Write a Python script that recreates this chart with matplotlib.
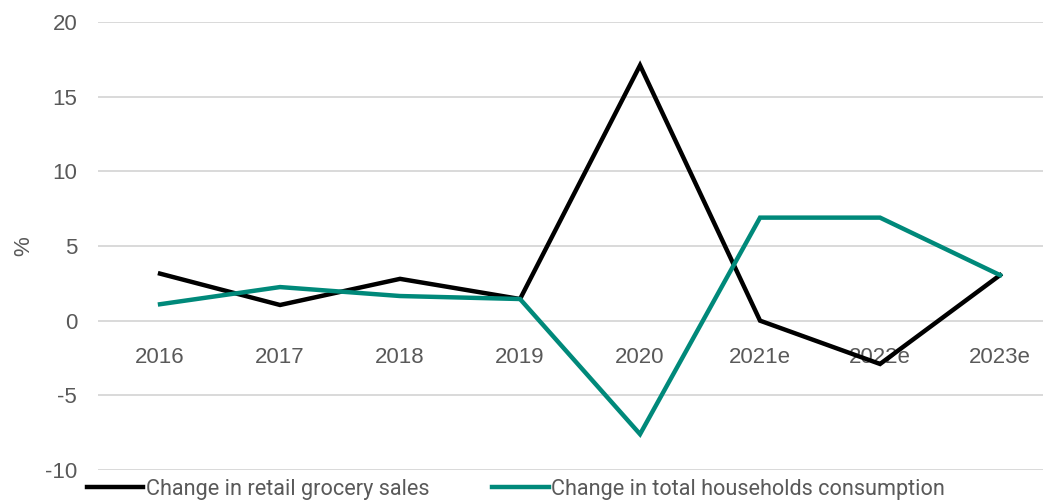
import numpy as np
import matplotlib.pyplot as plt
from matplotlib import font_manager

# yearly change, %
years = ['2016', '2017', '2018', '2019', '2020', '2021e', '2022e', '2023e']
grocery = [3.15, 1.05, 2.8, 1.45, 17.1, 0.0, -2.9, 3.05]
households = [1.1, 2.25, 1.65, 1.45, -7.6, 6.9, 6.9, 3.05]

names = {f.name for f in font_manager.fontManager.ttflist}
legend_font = 'Liberation Sans Narrow' if 'Liberation Sans Narrow' in names else 'Roboto'
plt.rcParams['font.family'] = ['Liberation Sans', 'DejaVu Sans']
plt.rcParams['axes.unicode_minus'] = False

grey = '#595959'
teal = '#00897a'

fig = plt.figure(figsize=(10.43, 5.01), dpi=100)
ax = fig.add_axes([98/1043, 1 - 470/501, 945/1043, 448/501])

x = np.arange(len(years))
ax.plot(x, grocery, color='black', lw=3.2, solid_joinstyle='miter',
        label='Change in retail grocery sales', zorder=3)
ax.plot(x, households, color=teal, lw=3.2, solid_joinstyle='miter',
        label='Change in total households consumption', zorder=3)

ax.set_xlim(-0.517, 7.358)
ax.set_ylim(-10, 20)
ax.set_yticks(np.arange(-10, 21, 5))
ax.yaxis.grid(True, color='#d9d9d9', lw=1.4)
ax.set_axisbelow(True)
for s in ax.spines.values():
    s.set_visible(False)

# category labels sit just under the zero line
ax.set_xticks(x)
ax.set_xticklabels(years)
ax.spines['bottom'].set_position(('data', 0))
ax.tick_params(axis='x', length=0, pad=19, labelsize=16, labelcolor=grey)
ax.tick_params(axis='y', length=0, pad=15, labelsize=16, labelcolor=grey)

ax.set_ylabel('%', color=grey, fontsize=16)
ax.yaxis.set_label_coords(-0.067, 0.5)

fig.legend(loc='center left', bbox_to_anchor=(87/1043, 1 - 489/501), ncol=2,
           frameon=False, handlelength=2.6, handletextpad=0.12,
           columnspacing=2.9, borderaxespad=0, borderpad=0,
           prop={'family': legend_font, 'size': 15.6}, labelcolor=grey)

fig.savefig('out.png', dpi=100)
